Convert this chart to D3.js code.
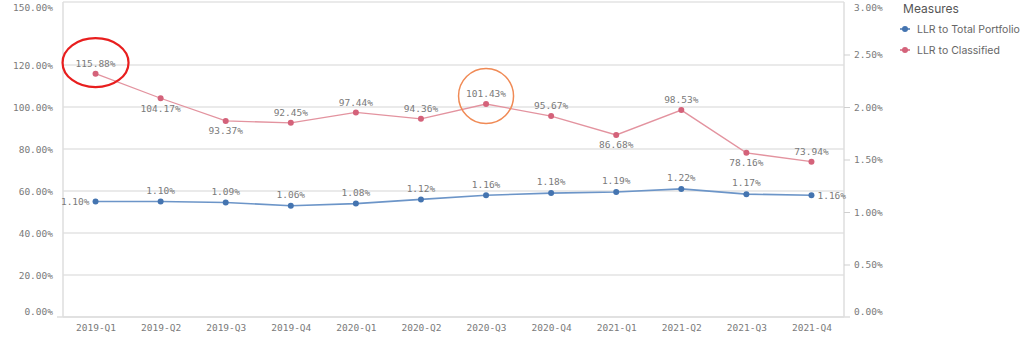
<!DOCTYPE html>
<html><head><meta charset="utf-8">
<script src="https://cdn.jsdelivr.net/npm/d3@7"></script>
<style>body{margin:0;background:#fff}svg{display:block}</style>
</head><body><svg id="c" width="1024" height="342"></svg>
<script>
const categories = ["2019-Q1","2019-Q2","2019-Q3","2019-Q4","2020-Q1","2020-Q2","2020-Q3","2020-Q4","2021-Q1","2021-Q2","2021-Q3","2021-Q4"];
const llrTotal = [1.10,1.10,1.09,1.06,1.08,1.12,1.16,1.18,1.19,1.22,1.17,1.16];
const llrClassified = [115.88,104.17,93.37,92.45,97.44,94.36,101.43,95.67,86.68,98.53,78.16,73.94];
const classifiedLabelPos = ["above","below","below","above","above","above","above","above","below","above","below","above"];
const leftTicks = [0,20,40,60,80,100,120,150];
const rightTicks = [0,0.5,1,1.5,2,2.5,3];
const seriesNames = ["LLR to Total Portfolio","LLR to Classified"];

const svg = d3.select("#c");
const L=63, R=844, T=2, B=317;
const x = d3.scalePoint().domain(categories).range([L,R]).padding(0.5);
const yL = d3.scaleLinear().domain([0,150]).range([B,T]);
const yR = d3.scaleLinear().domain([0,3]).range([B,T]);
const mono = "DejaVu Sans Mono, monospace";
const txt = "#7a7a7a";
const blue="#4474b0", blueLine="#6c95c8", red="#d4627a", redLine="#e3939f";

// gridlines
svg.append("g").selectAll("line").data(leftTicks).join("line")
  .attr("x1",L).attr("x2",R).attr("y1",d=>yL(d)).attr("y2",d=>yL(d))
  .attr("stroke","#e3e3e3").attr("stroke-width",1.5);

// axes lines
svg.append("line").attr("x1",L).attr("x2",L).attr("y1",T).attr("y2",B).attr("stroke","#dedede").attr("stroke-width",1.5);
svg.append("line").attr("x1",R).attr("x2",R).attr("y1",T).attr("y2",B).attr("stroke","#dedede").attr("stroke-width",1.5);
svg.append("line").attr("x1",57).attr("x2",850).attr("y1",B).attr("y2",B).attr("stroke","#dedede").attr("stroke-width",1.5);

// left axis labels
const gl = svg.append("g").attr("transform",`translate(${L},0)`)
  .call(d3.axisLeft(yL).tickValues(leftTicks).tickSize(0).tickPadding(10).tickFormat(d=>d3.format(".2f")(d)+"%"));
gl.select(".domain").remove();
gl.selectAll("text").attr("font-family",mono).attr("font-size",9.5).attr("fill",txt)
  .attr("dy",d=>d===150?"0.85em":(d===0?"-0.3em":"0.32em"));
// right axis
const gr = svg.append("g").attr("transform",`translate(${R},0)`)
  .call(d3.axisRight(yR).tickValues(rightTicks).tickSize(6).tickPadding(4).tickFormat(d=>d3.format(".2f")(d)+"%"));
gr.select(".domain").remove();
gr.selectAll("line").attr("stroke",d=>(d===0||d===3)?"none":"#cfcfcf");
gr.selectAll("text").attr("font-family",mono).attr("font-size",9.5).attr("fill",txt)
  .attr("dy",d=>d===3?"0.85em":(d===0?"-0.3em":"0.32em"));
// bottom axis
const gb = svg.append("g").attr("transform",`translate(0,${B})`)
  .call(d3.axisBottom(x).tickSize(0).tickPadding(7));
gb.select(".domain").remove();
gb.selectAll("text").attr("font-family",mono).attr("font-size",9.5).attr("fill",txt);

// lines
const lineR = d3.line().x((d,i)=>x(categories[i])).y(d=>yL(d));
const lineB = d3.line().x((d,i)=>x(categories[i])).y(d=>yR(d));
svg.append("path").attr("d",lineR(llrClassified)).attr("fill","none").attr("stroke",redLine).attr("stroke-width",1.3);
svg.append("path").attr("d",lineB(llrTotal)).attr("fill","none").attr("stroke",blueLine).attr("stroke-width",1.6);
svg.append("g").selectAll("circle").data(llrClassified).join("circle")
  .attr("cx",(d,i)=>x(categories[i])).attr("cy",d=>yL(d)).attr("r",3).attr("fill",red);
svg.append("g").selectAll("circle").data(llrTotal).join("circle")
  .attr("cx",(d,i)=>x(categories[i])).attr("cy",d=>yR(d)).attr("r",3).attr("fill",blue);

// labels
svg.append("g").selectAll("text").data(llrClassified).join("text")
  .attr("x",(d,i)=>x(categories[i])).attr("y",(d,i)=>yL(d)+(classifiedLabelPos[i]==="above"?-10:10))
  .attr("dy","0.35em").attr("text-anchor","middle").attr("font-family",mono).attr("font-size",9.5).attr("fill",txt)
  .text(d=>d3.format(".2f")(d)+"%");
svg.append("g").selectAll("text").data(llrTotal).join("text")
  .attr("x",(d,i)=>x(categories[i])+(i===0?-6:(i===llrTotal.length-1?6:0)))
  .attr("y",(d,i)=>yR(d)+((i===0||i===llrTotal.length-1)?0:-11))
  .attr("dy","0.35em")
  .attr("text-anchor",(d,i)=>i===0?"end":(i===llrTotal.length-1?"start":"middle"))
  .attr("font-family",mono).attr("font-size",9.5).attr("fill",txt)
  .text(d=>d3.format(".2f")(d)+"%");

// annotations
svg.append("ellipse").attr("cx",x(categories[0])).attr("cy",yL(llrClassified[0])-11).attr("rx",33).attr("ry",24.5)
  .attr("fill","none").attr("stroke","#e81e1e").attr("stroke-width",2.2);
svg.append("circle").attr("cx",x(categories[6])).attr("cy",yL(llrClassified[6])-8).attr("r",27.5)
  .attr("fill","none").attr("stroke","#f08a55").attr("stroke-width",1.5);

// legend
svg.append("text").attr("x",931).attr("y",9).attr("dy","0.35em").attr("text-anchor","middle")
  .attr("font-family","Inter, Noto Sans, sans-serif").attr("font-size",12).attr("fill","#555").text("Measures");
const lg = svg.append("g").selectAll("g").data(seriesNames).join("g")
  .attr("transform",(d,i)=>`translate(905,${29+i*21})`);
lg.append("line").attr("x1",-5).attr("x2",5).attr("stroke",(d,i)=>i===0?blue:red).attr("stroke-width",1.5);
lg.append("circle").attr("r",3).attr("fill",(d,i)=>i===0?blue:red);
lg.append("text").attr("x",12).attr("dy","0.35em").attr("font-family","Inter, Noto Sans, sans-serif")
  .attr("font-size",10.5).attr("fill","#666").text(d=>d);
</script></body></html>
